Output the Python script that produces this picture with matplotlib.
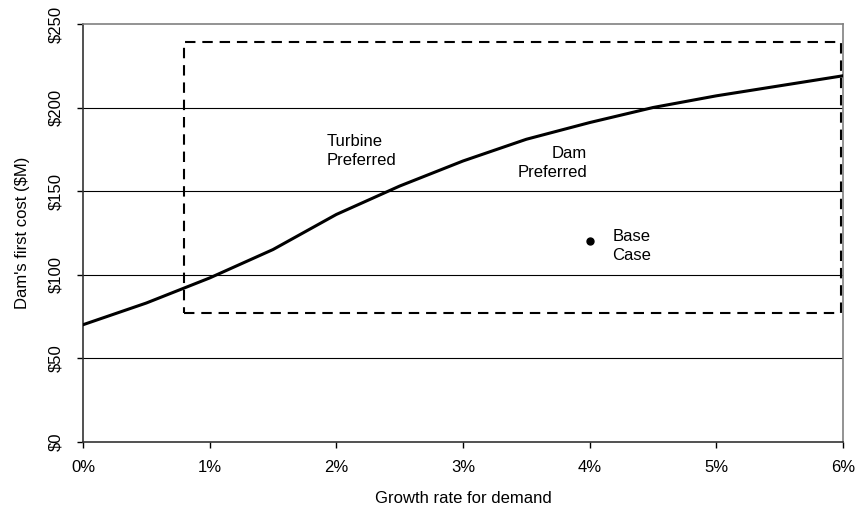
import matplotlib
matplotlib.use("Agg")
import matplotlib.pyplot as plt
import matplotlib.ticker as ticker

plt.rcParams['font.family'] = ['Liberation Sans', 'DejaVu Sans']

# breakeven curve: growth rate (%) vs dam first cost ($M)
growth = [0.0, 0.5, 1.0, 1.5, 2.0, 2.5, 3.0, 3.5, 4.0, 4.5, 5.0, 5.5, 6.0]
cost = [70, 83, 98, 115, 136, 153, 168, 181, 191, 200, 207, 213, 219]

# sensitivity range box
box_x = [0.8, 5.985]
box_y = [77, 239]

base_x = 4.0
base_y = 120

fig = plt.figure(figsize=(8.59, 5.08), dpi=100)
ax = fig.add_axes([0.0966, 0.1305, 0.8848, 0.8223])

for yv in [50, 100, 150, 200]:
    ax.axhline(yv, color='black', lw=0.8, zorder=1)

ax.plot(growth, cost, color='black', lw=2.2, zorder=3)

ax.plot([box_x[0], box_x[1], box_x[1], box_x[0], box_x[0]],
        [box_y[0], box_y[0], box_y[1], box_y[1], box_y[0]],
        color='black', lw=1.5, ls=(0, (5, 3.3)), zorder=2)

ax.plot(base_x, base_y, 'o', color='black', ms=5, zorder=4)

ax.text(1.92, 174, "Turbine\nPreferred", fontsize=12, ha='left', va='center', linespacing=1.32)
ax.text(3.98, 167, "Dam\nPreferred", fontsize=12, ha='right', va='center', linespacing=1.32,
        multialignment='right')
ax.text(4.18, 117, "Base\nCase", fontsize=12, ha='left', va='center', linespacing=1.32)

ax.set_xlim(0, 6)
ax.set_ylim(0, 250)
ax.xaxis.set_major_locator(ticker.MultipleLocator(1))
ax.yaxis.set_major_locator(ticker.MultipleLocator(50))
ax.xaxis.set_major_formatter(ticker.FuncFormatter(lambda v, p: f"{v:.0f}%"))
ax.yaxis.set_major_formatter(ticker.FuncFormatter(lambda v, p: f"${v:.0f}"))
ax.tick_params(axis='both', labelsize=12, length=4.5, width=1, direction='out')
ax.tick_params(axis='x', pad=9)
ax.tick_params(axis='y', pad=10, labelrotation=90)
for lbl in ax.get_yticklabels():
    lbl.set_va('center')

ax.spines['left'].set_color('#333333')
ax.spines['bottom'].set_color('#333333')
ax.spines['top'].set_color('#808080')
ax.spines['right'].set_color('#808080')
for s in ax.spines.values():
    s.set_linewidth(1.2)

ax.set_xlabel("Growth rate for demand", fontsize=12, labelpad=11)
ax.set_ylabel("Dam's first cost ($M)", fontsize=12, labelpad=13)

fig.savefig("out.png", dpi=100)
